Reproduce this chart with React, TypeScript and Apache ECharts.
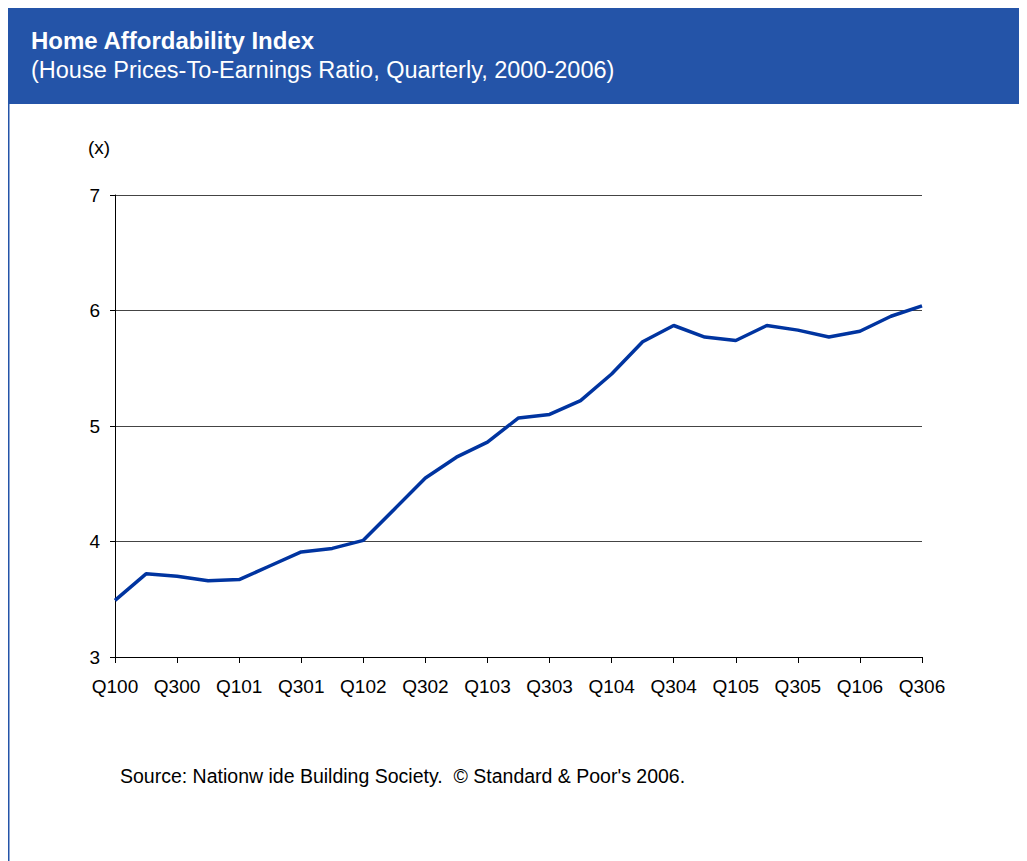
import React, { useEffect, useRef } from "react";
import * as echarts from "echarts";

const categories = [
  "Q100", "Q200", "Q300", "Q400",
  "Q101", "Q201", "Q301", "Q401",
  "Q102", "Q202", "Q302", "Q402",
  "Q103", "Q203", "Q303", "Q403",
  "Q104", "Q204", "Q304", "Q404",
  "Q105", "Q205", "Q305", "Q405",
  "Q106", "Q206", "Q306",
];

const ratioValues = [
  3.49, 3.72, 3.70, 3.66,
  3.67, 3.79, 3.91, 3.94,
  4.01, 4.28, 4.55, 4.73,
  4.86, 5.07, 5.10, 5.22,
  5.45, 5.73, 5.87, 5.77,
  5.74, 5.87, 5.83, 5.77,
  5.82, 5.95, 6.04,
];

const titleText = "Home Affordability Index";
const subtitleText = "(House Prices-To-Earnings Ratio, Quarterly, 2000-2006)";
const unitText = "(x)";
const sourceText = "Source: Nationw ide Building Society.  © Standard & Poor's 2006.";

const FONT = "'Liberation Sans', Arial, sans-serif";

export default function App() {
  const ref = useRef<HTMLDivElement>(null);

  useEffect(() => {
    if (!ref.current) return;
    const chart = echarts.init(ref.current, undefined, { renderer: "svg" });
    chart.setOption({
      animation: false,
      backgroundColor: "#ffffff",
      textStyle: { fontFamily: FONT },
      grid: { left: 107, right: 105, top: 187, bottom: 204, containLabel: false },
      xAxis: {
        type: "category",
        data: categories,
        boundaryGap: false,
        axisLine: { show: true, lineStyle: { color: "#000000", width: 1 } },
        axisTick: { show: true, interval: 1, length: 6, lineStyle: { color: "#000000" } },
        axisLabel: {
          interval: 1,
          color: "#000000",
          fontSize: 19,
          fontFamily: FONT,
          margin: 20,
        },
        splitLine: { show: false },
      },
      yAxis: {
        type: "value",
        min: 3,
        max: 7,
        interval: 1,
        axisLine: { show: true, lineStyle: { color: "#000000", width: 1 } },
        axisTick: { show: true, length: 5, lineStyle: { color: "#000000" } },
        axisLabel: {
          color: "#000000",
          fontSize: 19,
          fontFamily: FONT,
          margin: 15,
        },
        splitLine: { show: true, lineStyle: { color: "#444444", width: 1 } },
      },
      series: [
        {
          type: "line",
          data: ratioValues,
          symbol: "none",
          lineStyle: { color: "#0034A0", width: 3.5 },
          itemStyle: { color: "#0034A0" },
        },
      ],
      graphic: [
        {
          type: "rect",
          shape: { x: 0, y: 0, width: 1019, height: 96 },
          style: { fill: "#2454A8" },
          silent: true,
        },
        {
          type: "rect",
          shape: { x: 0.5, y: 0.5, width: 1016, height: 860 },
          style: { fill: "none", stroke: "#2454A8", lineWidth: 2 },
          silent: true,
        },
        {
          type: "text",
          x: 23,
          y: 32,
          style: {
            text: titleText,
            fill: "#ffffff",
            font: `bold 24px ${FONT}`,
            verticalAlign: "middle",
          },
        },
        {
          type: "text",
          x: 23,
          y: 62,
          style: {
            text: subtitleText,
            fill: "#ffffff",
            font: `23.5px ${FONT}`,
            verticalAlign: "middle",
          },
        },
        {
          type: "text",
          x: 80,
          y: 139,
          style: {
            text: unitText,
            fill: "#000000",
            font: `19px ${FONT}`,
            verticalAlign: "middle",
          },
        },
        {
          type: "text",
          x: 112,
          y: 768,
          style: {
            text: sourceText,
            fill: "#000000",
            font: `19.5px ${FONT}`,
            verticalAlign: "middle",
          },
        },
      ],
    });
    return () => chart.dispose();
  }, []);

  return <div ref={ref} style={{ width: 1019, height: 853 }} />;
}
